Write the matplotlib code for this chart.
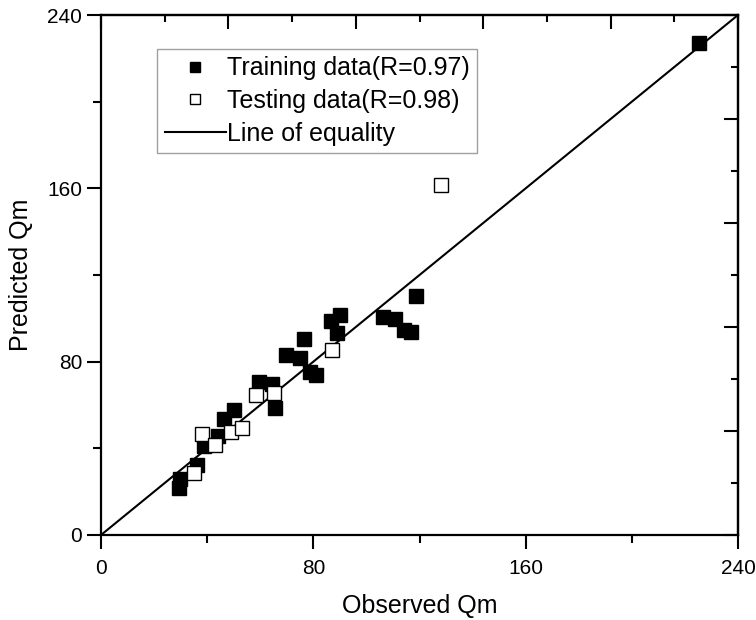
import numpy as np
import matplotlib.pyplot as plt
from matplotlib.ticker import MultipleLocator

plt.rcParams['font.family'] = ['Liberation Sans', 'DejaVu Sans']

# Training data (filled squares)
train_obs = [29.4, 29.8, 36.2, 38.8, 44.2, 46.2, 50.1, 59.5, 64.3, 65.6, 69.6, 75.1,
             76.6, 78.8, 81.0, 86.7, 90.1, 89.0, 106.2, 110.8, 114.2, 116.7, 118.6, 225.3]
train_pred = [21.7, 26.0, 32.3, 41.1, 45.7, 53.4, 57.7, 70.5, 69.6, 58.5, 83.1, 81.6,
              90.3, 75.4, 73.7, 99.0, 101.5, 93.4, 100.6, 99.7, 94.4, 93.6, 110.4, 227.0]

# Testing data (open squares)
test_obs = [35.0, 37.9, 43.0, 49.0, 53.2, 58.3, 65.3, 87.0, 128.1]
test_pred = [28.5, 46.6, 41.5, 47.7, 49.5, 64.6, 65.4, 85.2, 161.5]

axis_lim = [0, 240]
major_ticks = [0, 80, 160, 240]

fig = plt.figure(figsize=(7.56, 6.2), dpi=100)
ax = fig.add_axes([0.1336, 0.1371, 0.8426, 0.8387])

ax.plot(train_obs, train_pred, 's', color='black', markersize=9.5,
        label='Training data(R=0.97)', zorder=3)
ax.plot(test_obs, test_pred, 's', markerfacecolor='white', markeredgecolor='black',
        markeredgewidth=1.0, markersize=9.5, label='Testing data(R=0.98)', zorder=4)
ax.plot(axis_lim, axis_lim, '-', color='black', linewidth=1.5,
        label='Line of equality', zorder=2)

ax.set_xlim(axis_lim)
ax.set_ylim(axis_lim)
ax.set_xticks(major_ticks)
ax.set_yticks(major_ticks)
ax.xaxis.set_minor_locator(MultipleLocator(40))
ax.yaxis.set_minor_locator(MultipleLocator(40))
ax.tick_params(which='major', direction='out', length=10, width=1.5, labelsize=15,
               top=False, right=False)
ax.tick_params(which='minor', direction='out', length=6, width=1.5,
               top=False, right=False)
ax.tick_params(axis='x', pad=7)
for s in ax.spines.values():
    s.set_linewidth(1.6)

# top and right axes use a different tick spacing, ticks pointing inward
top = ax.secondary_xaxis('top')
right = ax.secondary_yaxis('right')
for sec, axis in [(top, top.xaxis), (right, right.yaxis)]:
    axis.set_major_locator(MultipleLocator(48))
    axis.set_minor_locator(MultipleLocator(24))
    sec.tick_params(which='major', direction='in', length=10, width=1.5,
                    labelbottom=False, labeltop=False, labelleft=False, labelright=False)
    sec.tick_params(which='minor', direction='in', length=5, width=1.5)
    for s in sec.spines.values():
        s.set_linewidth(1.6)

ax.set_xlabel('Observed Qm', fontsize=18, labelpad=12)
ax.set_ylabel('Predicted Qm', fontsize=18, labelpad=10)

leg = ax.legend(loc='upper left', bbox_to_anchor=(0.088, 0.935), fontsize=18,
                frameon=True, fancybox=False, handlelength=2.45, handletextpad=0.05,
                labelspacing=0.35, borderpad=0.3, borderaxespad=0, markerscale=0.75)
leg.get_frame().set_edgecolor('#888888')
leg.get_frame().set_linewidth(1.0)

plt.savefig('out.png', dpi=100)
